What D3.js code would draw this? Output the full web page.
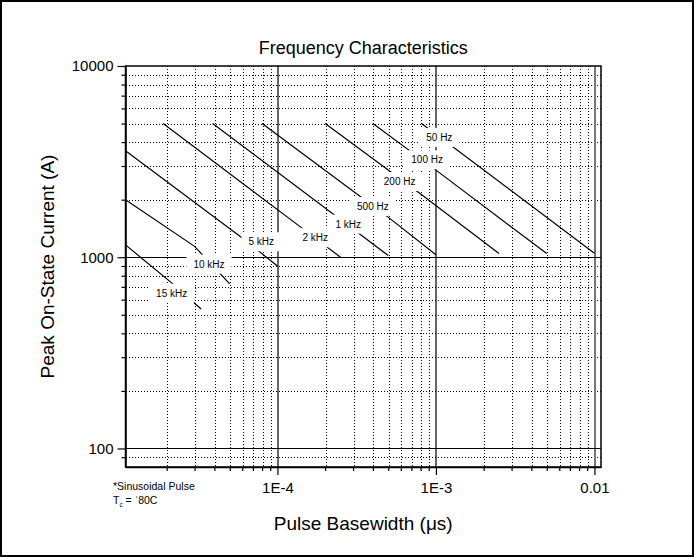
<!DOCTYPE html>
<html>
<head>
<meta charset="utf-8">
<style>
body { margin: 0; background: #fff; }
svg { display: block; font-family: "Liberation Sans", Arial, sans-serif; }
</style>
</head>
<body>
<svg id="chart" width="694" height="557"></svg>
<script src="https://d3js.org/d3.v7.min.js"></script>
<script>
'use strict';
(function() {

    // frequency curves
    // pulse basewidth (s) vs peak on-state current (A)
    var freqNames = ['50 Hz', '100 Hz', '200 Hz', '500 Hz', '1 kHz', '2 kHz', '5 kHz', '10 kHz', '15 kHz'];
    var widths = [
        [8.1e-4, 1.24e-3, 1.0e-2],
        [4.0e-4, 1.02e-3, 5.0e-3],
        [2.0e-4, 7.9e-4, 2.5e-3],
        [8.0e-5, 4.9e-4, 1.0e-3],
        [3.9e-5, 3.4e-4, 5.0e-4],
        [1.9e-5, 1.43e-4, 2.5e-4],
        [1.1e-5, 6.0e-5, 1.0e-4],
        [1.1e-5, 3.0e-5, 5.0e-5],
        [1.1e-5, 2.17e-5, 3.3e-5]
    ];
    var currents = [
        [5000, 3850, 1050],
        [5000, 2820, 1045],
        [5000, 2160, 1045],
        [5000, 1640, 1030],
        [5000, 1300, 1020],
        [5000, 1420, 1000],
        [3600, 1260, 900],
        [2000, 1140, 725],
        [1160, 730, 536]
    ];
    // where each curve's label sits (data units)
    var labelWidths = [1.05e-3, 8.8e-4, 5.9e-4, 4.0e-4, 2.8e-4, 1.73e-4, 7.9e-5, 3.7e-5, 2.15e-5];
    var labelCurrents = [4230, 3230, 2490, 1840, 1490, 1265, 1205, 920, 648];

    var xMajor = [1e-4, 1e-3, 1e-2];
    var xTickLabels = ['1E-4', '1E-3', '0.01'];
    var yMajor = [100, 1000, 10000];
    var yTickLabels = ['100', '1000', '10000'];

    var margin = {top: 66, right: 93, bottom: 90, left: 125.5},
        width = 694 - margin.left - margin.right,
        height = 557 - margin.top - margin.bottom;

    var svg = d3.select('#chart');

    // outer frame
    svg.append('rect')
        .attr('x', 1).attr('y', 1)
        .attr('width', 692).attr('height', 555)
        .attr('fill', '#fff')
        .attr('stroke', '#000')
        .attr('stroke-width', 2);

    var g = svg.append('g')
        .attr('transform', 'translate(' + margin.left + ',' + margin.top + ')');

    var x = d3.scaleLog().domain([1.1e-5, 0.011]).range([0, width]);
    var y = d3.scaleLog().domain([80, 10000]).range([height, 0]);

    function isMajor(v) {
        var l = Math.log10(v);
        return Math.abs(l - Math.round(l)) < 1e-9;
    }

    var xGrid = x.ticks().filter(function(d) { return d > x.domain()[0] && d < x.domain()[1]; });
    var yGrid = y.ticks().filter(function(d) { return d > y.domain()[0] && d < y.domain()[1]; });

    // dotted minor grid
    g.append('g').selectAll('line')
        .data(xGrid.filter(function(d) { return !isMajor(d); }))
        .enter().append('line')
        .attr('x1', function(d) { return Math.round(x(d)) + 0.5; })
        .attr('x2', function(d) { return Math.round(x(d)) + 0.5; })
        .attr('y1', 0).attr('y2', height)
        .attr('stroke', '#000')
        .attr('stroke-dasharray', '1,2')
        .attr('shape-rendering', 'crispEdges');

    g.append('g').selectAll('line')
        .data(yGrid.filter(function(d) { return !isMajor(d); }))
        .enter().append('line')
        .attr('y1', function(d) { return Math.round(y(d)) + 0.5; })
        .attr('y2', function(d) { return Math.round(y(d)) + 0.5; })
        .attr('x1', 0).attr('x2', width)
        .attr('stroke', '#000')
        .attr('stroke-dasharray', '1,2')
        .attr('shape-rendering', 'crispEdges');

    // solid decade lines
    g.append('g').selectAll('line')
        .data(xGrid.filter(isMajor))
        .enter().append('line')
        .attr('x1', function(d) { return Math.round(x(d)) + 0.5; })
        .attr('x2', function(d) { return Math.round(x(d)) + 0.5; })
        .attr('y1', 0).attr('y2', height)
        .attr('stroke', function(d) { return d === 1e-2 ? '#777' : '#000'; })
        .attr('stroke-width', function(d) { return d === 1e-2 ? 2 : 1.2; });

    g.append('g').selectAll('line')
        .data(yGrid.filter(isMajor))
        .enter().append('line')
        .attr('y1', function(d) { return Math.round(y(d)) + 0.5; })
        .attr('y2', function(d) { return Math.round(y(d)) + 0.5; })
        .attr('x1', 0).attr('x2', width)
        .attr('stroke', '#000')
        .attr('stroke-width', 1.2);

    // curves
    var series = freqNames.map(function(name, i) {
        return {
            name: name,
            points: widths[i].map(function(t, j) { return [t, currents[i][j]]; }),
            lx: labelWidths[i],
            ly: labelCurrents[i]
        };
    });

    var line = d3.line()
        .x(function(d) { return x(d[0]); })
        .y(function(d) { return y(d[1]); });

    g.append('g').selectAll('path')
        .data(series)
        .enter().append('path')
        .attr('d', function(d) { return line(d.points); })
        .attr('fill', 'none')
        .attr('stroke', '#000')
        .attr('stroke-width', 1.2);

    // labels with white boxes that break the lines
    var labels = g.append('g').selectAll('g')
        .data(series)
        .enter().append('g')
        .attr('transform', function(d) { return 'translate(' + x(d.lx) + ',' + y(d.ly) + ')'; });

    labels.append('text')
        .attr('text-anchor', 'middle')
        .attr('dy', '0.35em')
        .attr('font-size', 10)
        .attr('fill', '#000')
        .text(function(d) { return d.name; });

    labels.each(function() {
        var grp = d3.select(this);
        var bb = grp.select('text').node().getBBox();
        grp.insert('rect', 'text')
            .attr('x', bb.x - 7)
            .attr('y', -9.5)
            .attr('width', bb.width + 14)
            .attr('height', 19)
            .attr('fill', '#fff');
    });

    // plot frame
    g.append('rect')
        .attr('width', width)
        .attr('height', height)
        .attr('fill', 'none')
        .attr('stroke', '#000')
        .attr('stroke-width', 1.5);

    // axes
    var xAxis = g.append('g')
        .attr('transform', 'translate(0,' + height + ')')
        .call(d3.axisBottom(x)
            .tickValues(xGrid)
            .tickSize(4)
            .tickSizeOuter(0)
            .tickFormat(function(d) {
                var k = xMajor.indexOf(d);
                return k < 0 ? '' : xTickLabels[k];
            }));

    xAxis.select('.domain').attr('stroke-width', 1.5);
    xAxis.selectAll('.tick line')
        .attr('stroke-width', 1.2)
        .attr('y2', function(d) { return isMajor(d) ? 8 : 4; });
    xAxis.selectAll('.tick text')
        .attr('y', 15)
        .attr('font-size', 15)
        .attr('font-family', '"Liberation Sans", Arial, sans-serif')
        .attr('fill', '#000');

    var yAxis = g.append('g')
        .call(d3.axisLeft(y)
            .tickValues(yGrid.concat([10000]))
            .tickSize(4)
            .tickSizeOuter(0)
            .tickFormat(function(d) {
                var k = yMajor.indexOf(d);
                return k < 0 ? '' : yTickLabels[k];
            }));

    yAxis.select('.domain').attr('stroke-width', 1.5);
    yAxis.selectAll('.tick line')
        .attr('stroke-width', 1.2)
        .attr('x2', function(d) { return isMajor(d) ? -8 : -4; });
    yAxis.selectAll('.tick text')
        .attr('x', -12)
        .attr('font-size', 15)
        .attr('font-family', '"Liberation Sans", Arial, sans-serif')
        .attr('fill', '#000');

    // titles
    svg.append('text')
        .attr('x', margin.left + width / 2)
        .attr('y', 54)
        .attr('text-anchor', 'middle')
        .attr('font-size', 18)
        .text('Frequency Characteristics');

    svg.append('text')
        .attr('x', margin.left + width / 2)
        .attr('y', 530)
        .attr('text-anchor', 'middle')
        .attr('font-size', 19)
        .text('Pulse Basewidth (\u03bcs)');

    svg.append('text')
        .attr('transform', 'translate(54,' + (margin.top + height / 2) + ') rotate(-90)')
        .attr('text-anchor', 'middle')
        .attr('font-size', 19)
        .text('Peak On-State Current (A)');

    // footnote
    var note = svg.append('g').attr('font-size', 10.5).attr('fill', '#000');
    note.append('text')
        .attr('x', 113).attr('y', 490)
        .text('*Sinusoidal Pulse');
    var tc = note.append('text').attr('x', 113).attr('y', 504);
    tc.append('tspan').text('T');
    tc.append('tspan').attr('font-size', 6.5).attr('dy', 3).text('c');
    tc.append('tspan').attr('dy', -3).text(' = \u02c880C');

})();
</script>
</body>
</html>
